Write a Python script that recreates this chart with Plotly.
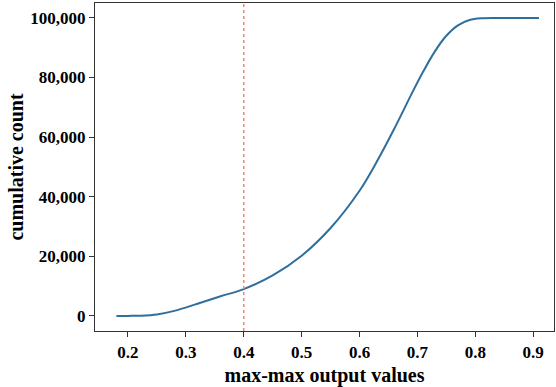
import plotly.graph_objects as go

x_vals = [0.18, 0.20, 0.22, 0.25, 0.28, 0.32, 0.36, 0.40, 0.45, 0.50, 0.55, 0.60, 0.63,
          0.66, 0.69, 0.71, 0.73, 0.75, 0.77, 0.79, 0.81, 0.84, 0.87, 0.91]
y_vals = [0, 20, 80, 500, 1700, 4100, 6600, 9000, 13600, 20200, 29500, 42000, 51800,
          62800, 74500, 82000, 88700, 94000, 97500, 99300, 99900, 100000, 100000, 100000]
threshold = 0.4
x_ticks = [0.2, 0.3, 0.4, 0.5, 0.6, 0.7, 0.8, 0.9]
y_ticks = [0, 20000, 40000, 60000, 80000, 100000]

font_family = "Liberation Serif"

fig = go.Figure()
fig.add_trace(go.Scatter(x=x_vals, y=y_vals, mode="lines",
                         line=dict(color="#2e6f9e", width=2, shape="spline", smoothing=1.0),
                         showlegend=False))
fig.add_shape(type="line", x0=threshold, x1=threshold, y0=0, y1=1, yref="paper", xref="x",
              line=dict(color="#ee8877", width=1.5, dash="dot"))

fig.update_layout(
    width=556, height=387,
    margin=dict(l=95, r=2, t=3, b=56),
    paper_bgcolor="white", plot_bgcolor="white",
    font=dict(family=font_family, color="black"),
)
fig.update_xaxes(range=[0.143, 0.936], tickvals=x_ticks, ticktext=[f"{v:.1f}" for v in x_ticks],
                 showgrid=False, zeroline=False, showline=True, linecolor="#333", linewidth=1.2,
                 mirror=True, ticks="outside", ticklen=5, tickcolor="#333", automargin=False,
                 tickfont=dict(size=17, family=font_family, weight="bold"),
                 title=dict(text="max-max output values", standoff=7,
                            font=dict(size=20, family=font_family, weight="bold")))
fig.update_yaxes(range=[-5050, 105000], tickvals=y_ticks, tickformat=",d",
                 showgrid=False, zeroline=False, showline=True, linecolor="#333", linewidth=1.2,
                 mirror=True, ticks="outside", ticklen=5, tickcolor="#333", automargin=False,
                 tickfont=dict(size=17, family=font_family, weight="bold"),
                 title=dict(text="cumulative count", standoff=1,
                            font=dict(size=20, family=font_family, weight="bold")))

fig.write_html("out.html", config={"displayModeBar": False},
               post_script="document.body.style.margin='0';document.body.style.padding='0';")
